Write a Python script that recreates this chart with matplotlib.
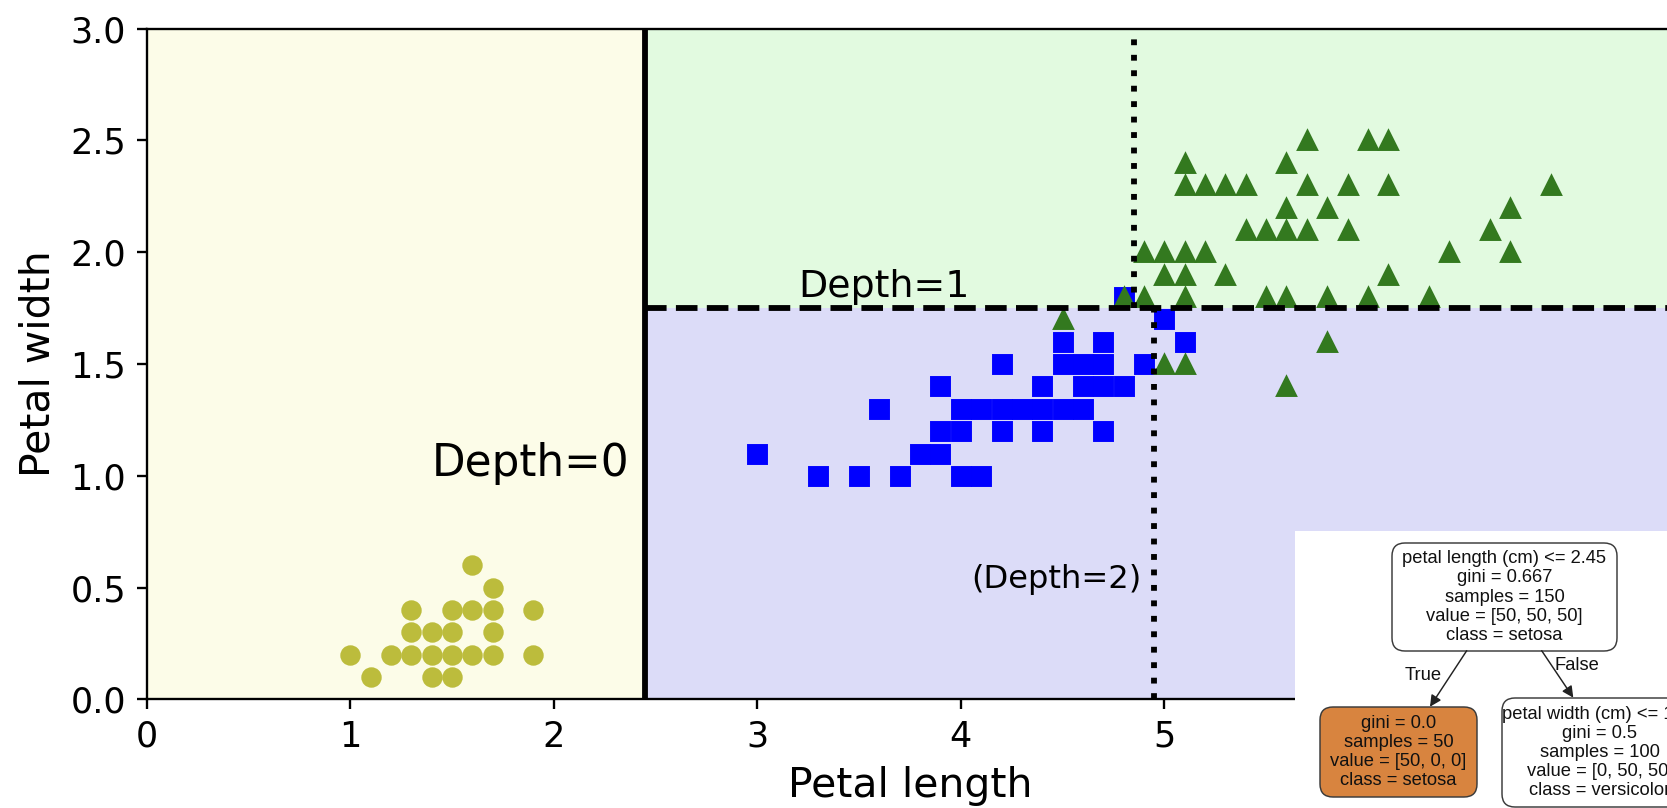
import matplotlib
matplotlib.use("Agg")
import matplotlib.pyplot as plt
from matplotlib.patches import FancyBboxPatch

# Iris petal measurements (distinct points per class)
setosa_len = [1.0, 1.1, 1.2, 1.3, 1.3, 1.3, 1.4, 1.4, 1.4, 1.5, 1.5, 1.5, 1.5,
              1.6, 1.6, 1.6, 1.7, 1.7, 1.7, 1.7, 1.9, 1.9]
setosa_wid = [0.2, 0.1, 0.2, 0.2, 0.3, 0.4, 0.1, 0.2, 0.3, 0.1, 0.2, 0.3, 0.4,
              0.2, 0.4, 0.6, 0.2, 0.3, 0.4, 0.5, 0.2, 0.4]

versicolor_len = [3.0, 3.3, 3.5, 3.6, 3.7, 3.8, 3.9, 3.9, 3.9, 4.0, 4.0, 4.0,
                  4.1, 4.1, 4.2, 4.2, 4.2, 4.3, 4.4, 4.4, 4.4, 4.5, 4.5, 4.5,
                  4.6, 4.6, 4.6, 4.7, 4.7, 4.7, 4.7, 4.8, 4.8, 4.9, 5.0, 5.1]
versicolor_wid = [1.1, 1.0, 1.0, 1.3, 1.0, 1.1, 1.1, 1.2, 1.4, 1.0, 1.2, 1.3,
                  1.0, 1.3, 1.2, 1.3, 1.5, 1.3, 1.2, 1.3, 1.4, 1.3, 1.5, 1.6,
                  1.3, 1.4, 1.5, 1.2, 1.4, 1.5, 1.6, 1.4, 1.8, 1.5, 1.7, 1.6]

virginica_len = [4.5, 4.8, 4.9, 4.9, 5.0, 5.0, 5.0, 5.1, 5.1, 5.1, 5.1, 5.1,
                 5.1, 5.2, 5.2, 5.3, 5.3, 5.4, 5.4, 5.5, 5.5, 5.6, 5.6, 5.6,
                 5.6, 5.6, 5.7, 5.7, 5.7, 5.8, 5.8, 5.8, 5.9, 5.9, 6.0, 6.0,
                 6.1, 6.1, 6.1, 6.3, 6.4, 6.6, 6.7, 6.7, 6.9]
virginica_wid = [1.7, 1.8, 1.8, 2.0, 1.5, 1.9, 2.0, 1.5, 1.8, 1.9, 2.0, 2.3,
                 2.4, 2.0, 2.3, 1.9, 2.3, 2.1, 2.3, 1.8, 2.1, 1.4, 1.8, 2.1,
                 2.2, 2.4, 2.1, 2.3, 2.5, 1.6, 1.8, 2.2, 2.1, 2.3, 1.8, 2.5,
                 1.9, 2.3, 2.5, 1.8, 2.0, 2.1, 2.0, 2.2, 2.3]

# tree split thresholds
split_root = 2.45   # petal length
split_d1 = 1.75     # petal width
split_d2_low = 4.95
split_d2_high = 4.85

# tree nodes: text lines
root_lines = ["petal length (cm) <= 2.45", "gini = 0.667", "samples = 150",
              "value = [50, 50, 50]", "class = setosa"]
left_lines = ["gini = 0.0", "samples = 50", "value = [50, 0, 0]", "class = setosa"]
right_lines = ["petal width (cm) <= 1.75", "gini = 0.5", "samples = 100",
               "value = [0, 50, 50]", "class = versicolor"]

x_max, y_max = 7.5, 3.0

fig = plt.figure(figsize=(1667 / 210, 808 / 210), dpi=210)
ax = fig.add_axes([0.0880, 0.1343, 0.9157, 0.8302])

# decision regions
ax.fill_between([0, split_root], 0, y_max, color="#fcfce8", lw=0)
ax.fill_between([split_root, x_max], 0, split_d1, color="#dcdcf8", lw=0)
ax.fill_between([split_root, x_max], split_d1, y_max, color="#e2fae0", lw=0)

ax.plot(setosa_len, setosa_wid, "o", color="#bcbc3c", ls="none")
ax.plot(versicolor_len, versicolor_wid, "s", color="#0000ff", ls="none")
ax.plot(virginica_len, virginica_wid, "^", color="#33791f", ls="none")

ax.plot([split_root, split_root], [0, y_max], "k-", linewidth=2)
ax.plot([split_root, x_max], [split_d1, split_d1], "k--", linewidth=2)
ax.plot([split_d2_low, split_d2_low], [0, split_d1], "k:", linewidth=2)
ax.plot([split_d2_high, split_d2_high], [split_d1, y_max], "k:", linewidth=2)

ax.text(1.40, 1.0, "Depth=0", fontsize=15)
ax.text(3.2, 1.80, "Depth=1", fontsize=13)
ax.text(4.05, 0.5, "(Depth=2)", fontsize=11)

ax.set_xlim(0, x_max)
ax.set_ylim(0, y_max)
ax.set_xticks(range(0, 6))   # 6 and 7 sit under the tree panel
ax.set_xlabel("Petal length", fontsize=14)
ax.set_ylabel("Petal width", fontsize=14)
ax.tick_params(labelsize=12)

# tree diagram panel (pixel units)
W, H = 372, 277
tax = fig.add_axes([1295 / 1667, 0, W / 1667, H / 808])
tax.set_xlim(0, W)
tax.set_ylim(H, 0)
tax.set_xticks([])
tax.set_yticks([])
for s in tax.spines.values():
    s.set_visible(False)
tax.set_facecolor("white")

nodes = [
    (209.5, 66, 225, 108, root_lines, "white"),
    (103.5, 221, 157, 90, left_lines, "#d8843f"),
    (305, 221.5, 196, 109, right_lines, "white"),
]
for cx, cy, w, h, lines, fc in nodes:
    box = FancyBboxPatch((cx - w / 2, cy - h / 2), w, h,
                         boxstyle="round,pad=0,rounding_size=13",
                         fc=fc, ec="#3a3a3a", lw=0.5)
    tax.add_patch(box)
    tax.text(cx, cy, "\n".join(lines), ha="center", va="center",
             fontsize=6.3, family="Liberation Sans", linespacing=1.17,
             color="#111111")

arrow = dict(arrowstyle="-|>", color="#222222", lw=0.5, mutation_scale=8,
             shrinkA=0, shrinkB=0)
tax.annotate("", xy=(135, 175.7), xytext=(171.7, 119.7), arrowprops=arrow)
tax.annotate("", xy=(278.3, 166.7), xytext=(246.7, 119.7), arrowprops=arrow)
tax.text(128, 144, "True", ha="center", va="center", fontsize=6.3,
         family="Liberation Sans", color="#111111")
tax.text(282, 134, "False", ha="center", va="center", fontsize=6.3,
         family="Liberation Sans", color="#111111")

plt.savefig("out.png", dpi=210)
